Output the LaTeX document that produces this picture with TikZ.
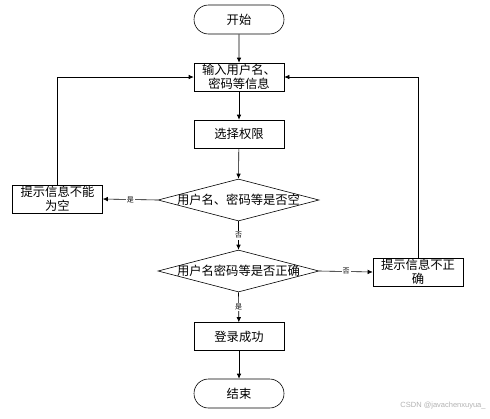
\documentclass[tikz,border=0pt]{standalone}
\usepackage{fontspec}
\setmainfont{Liberation Sans}
\newfontfamily\cjk{Noto Sans CJK SC}
\usetikzlibrary{shapes.geometric,shapes.misc,arrows.meta}
\begin{document}
\begin{tikzpicture}[x=1pt,y=-1pt,line width=0.6pt,
  font=\cjk\fontsize{12.3}{14}\selectfont,
  terminal/.style={draw,rounded rectangle,minimum width=90pt,minimum height=29pt,inner sep=0pt},
  procbox/.style={draw,rectangle,minimum width=90pt,minimum height=28pt,inner sep=1pt,align=center},
  decision/.style={draw,diamond,minimum width=161pt,minimum height=42pt,inner sep=0pt},
  flow/.style={-{Latex[length=5pt,width=4.5pt]}},
  tag/.style={font=\cjk\fontsize{7}{8}\selectfont,fill=white,inner sep=1pt}]
\useasboundingbox (0,0) rectangle (490,418);
% main column
\node[terminal] (start) at (239,19.5) {开始};
\node[procbox] (input) at (239,77) {输入用户名、\\密码等信息};
\node[procbox] (role) at (239,134) {选择权限};
\node[decision,label={center:用户名、密码等是否空}] (empty) at (238.5,200) {};
\node[decision,label={center:用户名密码等是否正确}] (check) at (238.5,271) {};
\node[procbox] (ok) at (239,336.5) {登录成功};
\node[terminal] (stop) at (239,393.5) {结束};
% side boxes
\node[procbox] (msgempty) at (57.5,199) {提示信息不能\\为空};
\node[procbox] (msgwrong) at (418,272) {提示信息不正\\确};
\draw[flow] (start) -- (input);
\draw[flow] (input) -- (role);
\draw[flow] (role) -- (empty.north);
\draw[flow] (empty.south) -- node[tag] {否} (check.north);
\draw[flow] (check.south) -- node[tag] {是} (ok);
\draw[flow] (ok) -- (stop);
\draw[flow] (empty.west) -- node[tag] {是} (msgempty.east);
\draw[flow] (check.east) -- node[tag] {否} (msgwrong.west);
% loops back to input
\draw[flow] (msgempty.north) |- (input.west);
\draw[flow] (msgwrong.north) |- (input.east);
\node[text=black!30,font=\fontsize{7.5}{9}\selectfont] (mark) at (443,406) {CSDN @javachenxuyua\_};
\end{tikzpicture}
\end{document}
